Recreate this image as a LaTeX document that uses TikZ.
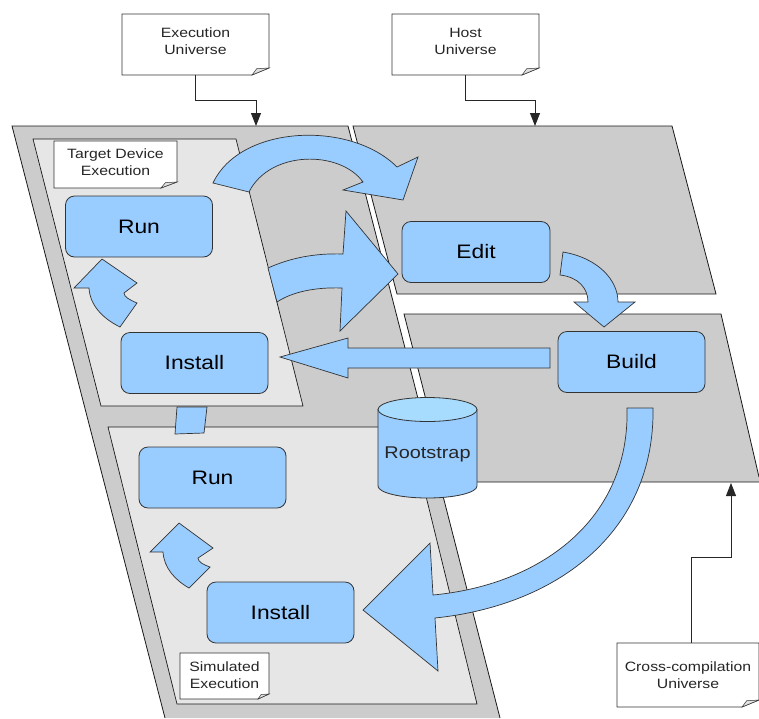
\documentclass[tikz,border=0pt]{standalone}
\usepackage{fontspec}
\setmainfont{Liberation Sans}[FakeStretch=1.17]
\usetikzlibrary{arrows.meta}
\definecolor{ugrey}{HTML}{CCCCCC}
\definecolor{pgrey}{HTML}{E6E6E6}
\definecolor{bblue}{HTML}{99CCFF}
\definecolor{btop}{HTML}{A8DCFF}
\definecolor{edgec}{HTML}{333333}
\newcommand\mynote[6]{%
 \draw[notefill] ({#1-#3/2},{#2-#4/2}) -- ({#1+#3/2},{#2-#4/2}) -- ({#1+#3/2},{#2+#4/2-#6}) -- ({#1+#3/2-#5},{#2+#4/2}) -- ({#1-#3/2},{#2+#4/2}) -- cycle;
 \draw[flap] ({#1+#3/2-#5},{#2+#4/2}) -- ({#1+#3/2},{#2+#4/2-#6}) -- ({#1+#3/2-0.72*#5},{#2+#4/2-0.9*#6}) -- cycle;}
\begin{document}
\begin{tikzpicture}[x=1pt,y=-1pt,
  ufill/.style={fill=ugrey},
  uline/.style={draw=black!90,line width=0.8pt},
  panel/.style={fill=pgrey,draw=black!90,line width=0.7pt},
  blockarrow/.style={fill=bblue,draw=edgec,line width=0.7pt,line join=miter},
  stepbox/.style={rectangle,rounded corners=9pt,fill=bblue,draw=edgec,line width=0.8pt,minimum width=147pt,minimum height=61pt,font=\fontsize{19.5}{22}\selectfont,text=black},
  note/.style={rectangle,inner sep=0pt,align=center,font=\fontsize{13.5}{17}\selectfont,text=black!85},
  notefill/.style={fill=white,draw=black!80,line width=0.7pt},
  flap/.style={fill=ugrey!60,draw=black!80,line width=0.5pt},
  link/.style={draw=black!85,line width=0.8pt,-{Triangle[length=13pt,width=10pt]}}]
\useasboundingbox (0,0) rectangle (759,718);

% universes
\fill[ufill] (12,126) -- (348,126) -- (500,718) -- (165,718) -- cycle;
\draw[uline] (165,718) -- (12,126) -- (348,126) -- (500,718);
\draw[ufill,uline] (353,126) -- (672,126) -- (716,294) -- (397,294) -- cycle;
\fill[ufill] (404,314) -- (721,314) -- (759,477) -- (759,482) -- (447,482) -- cycle;
\draw[uline] (759,477) -- (721,314) -- (404,314) -- (447,482) -- (759,482);

% panels
\draw[panel] (33,139) -- (236,139) -- (303,406) -- (101,406) -- cycle;
\draw[panel] (108,427) -- (409,427) -- (477,704) -- (177,704) -- cycle;

% block arrows
\draw[blockarrow] (213,183) .. controls (240,125) and (350,120) .. (397,167) -- (418,157) -- (403,200) -- (343,190) -- (363,182) .. controls (340,150) and (270,150) .. (249,192) -- cycle;
\draw[blockarrow] (268,268) .. controls (290,258) and (315,253) .. (343,254) -- (346,211) -- (398,274) -- (340,331) -- (342,288) .. controls (315,287) and (292,292) .. (277,302) -- cycle;
\draw[blockarrow] (550,348) -- (348,348) -- (348,338) -- (280,357) -- (348,378) -- (348,368) -- (550,368) -- cycle;
\draw[blockarrow] (563,252) .. controls (598,258) and (618,280) .. (618,302) -- (635,302) -- (604,327) -- (574,302) -- (588,302) .. controls (588,288) and (578,277) .. (560,275) -- cycle;
\draw[blockarrow] (627,408) -- (653,408) .. controls (655,530) and (560,605) .. (435,618) -- (438,671) -- (363,610) -- (430,543) -- (433,595) .. controls (540,585) and (630,520) .. (627,408) -- cycle;
\draw[blockarrow] (120,327) -- (137,303) .. controls (130,300) and (124,297) .. (124,293) -- (137,283) -- (102,259) -- (74,288) -- (89,288) .. controls (90,305) and (102,318) .. (120,327) -- cycle;
\draw[blockarrow] (189,588) -- (210,567) .. controls (204,565) and (198,562) .. (198,558) -- (213,548) -- (179,523) -- (150,552) -- (163,552) .. controls (164,568) and (175,580) .. (189,588) -- cycle;
\draw[blockarrow] (177,407) -- (207,407) -- (204,433) -- (175,434) -- cycle;

% boxes
\node[stepbox] (runA) at (139,226.5) {Run};
\node[stepbox] (installA) at (194.5,363) {Install};
\node[stepbox,minimum width=148pt] (edit) at (476,252) {Edit};
\node[stepbox] (build) at (631.5,362) {Build};
\node[stepbox] (runB) at (212.5,477.5) {Run};
\node[stepbox] (installB) at (280.5,612.5) {Install};

% rootstrap cylinder
\draw[fill=bblue,draw=edgec,line width=0.8pt] (378,409.5) -- (378,486) arc[start angle=180,end angle=0,x radius=49.5,y radius=12] -- (477,409.5) -- cycle;
\draw[fill=btop,draw=edgec,line width=0.8pt] (427.5,409.5) ellipse[x radius=49.5,y radius=12];
\node[font=\fontsize{17}{20}\selectfont,text=black!85] (root) at (427.5,454) {Rootstrap};

% notes
\mynote{195.5}{44.5}{147}{61}{17}{7}
\node[note,minimum width=147pt,minimum height=67pt] (execnote) at (195.5,41.5) {Execution\\Universe};
\mynote{465.5}{44.5}{147}{61}{17}{7}
\node[note,minimum width=147pt,minimum height=67pt] (hostnote) at (465.5,41.5) {Host\\Universe};
\mynote{115.5}{164.5}{123}{47}{16}{6}
\node[note,minimum width=123pt,minimum height=47pt] (tdenote) at (115.5,162) {Target Device\\Execution};
\mynote{224.5}{676}{89}{46}{11}{5}
\node[note,minimum width=89pt,minimum height=46pt] (simnote) at (224.5,675) {Simulated\\Execution};
\mynote{688}{675}{142}{64}{17}{7}
\node[note,minimum width=142pt,minimum height=64pt] (crossnote) at (688,675) {Cross-compilation\\Universe};

% note connectors
\coordinate (exectop) at (256,126);
\coordinate (hosttop) at (535,126);
\coordinate (crosstop) at (731,483);
\draw[link] (execnote.south) -- ++(0,25) -| (exectop);
\draw[link] (hostnote.south) -- ++(0,25) -| (hosttop);
\draw[link] ([xshift=3pt]crossnote.north) -- ++(0,-85) -| (crosstop);
\end{tikzpicture}
\end{document}
